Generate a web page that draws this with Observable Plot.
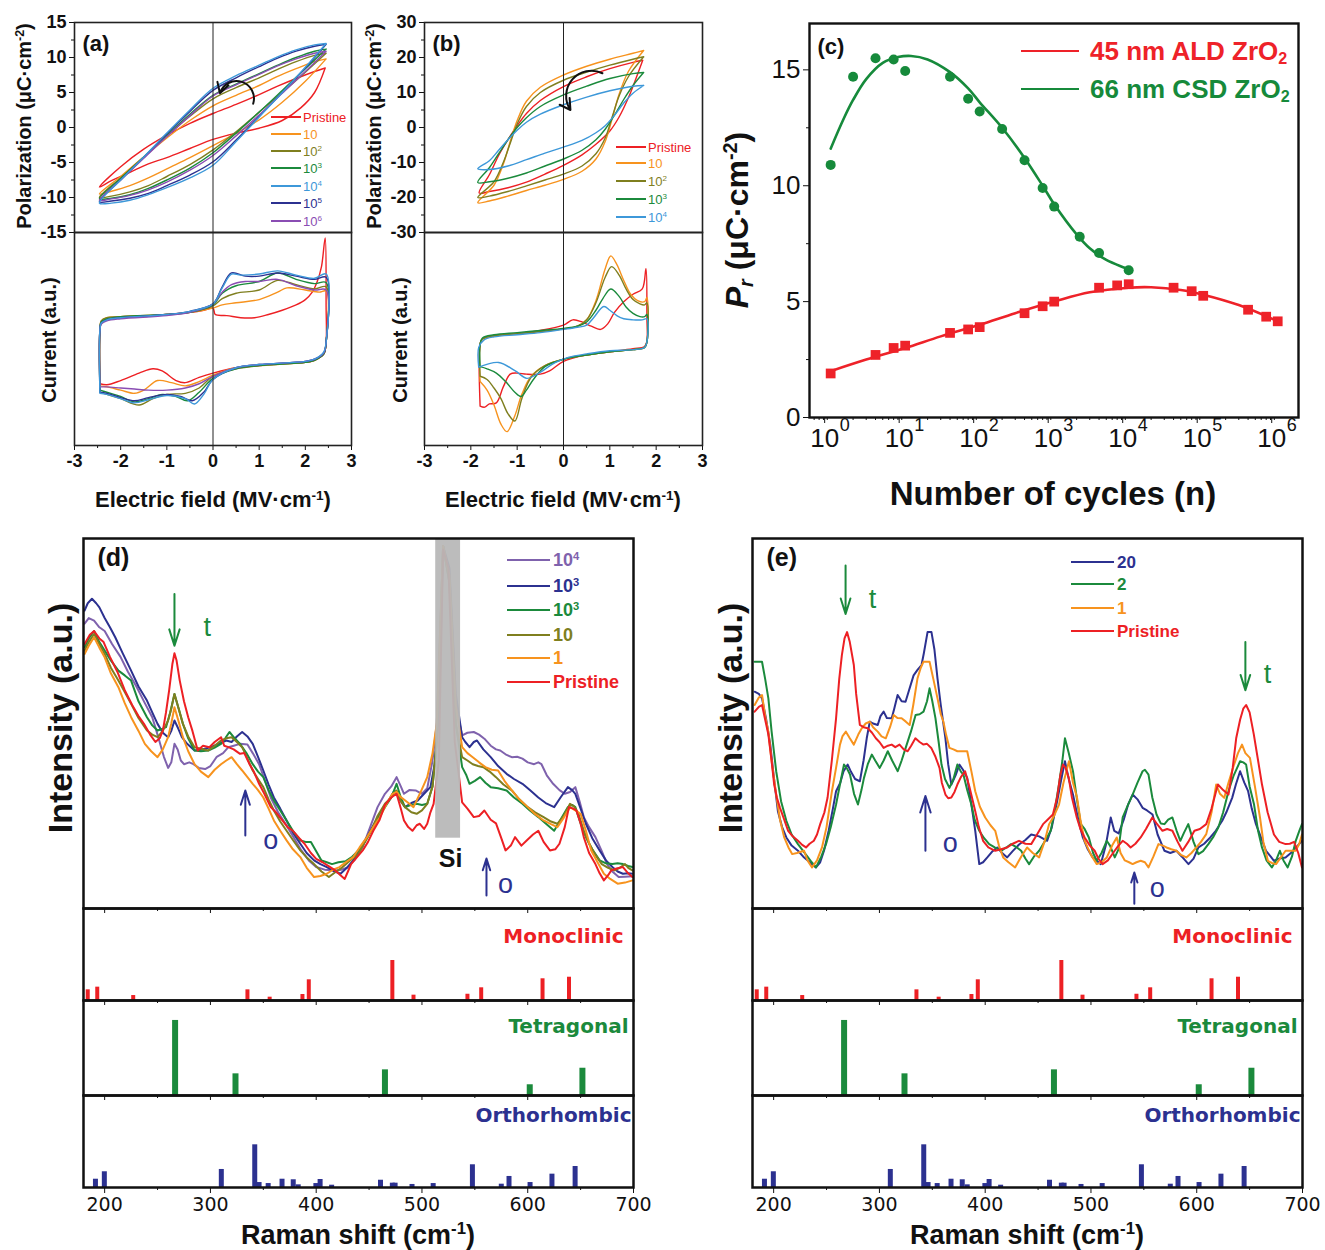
<!DOCTYPE html>
<html><head><meta charset="utf-8">
<script src="https://cdn.jsdelivr.net/npm/d3@7"></script>
<script src="https://cdn.jsdelivr.net/npm/@observablehq/plot@0.6"></script>
<style>
body{margin:0;background:#fff;}
#root{position:relative;width:1325px;height:1250px;overflow:hidden;background:#fff;}
#root sup{font-size:0.62em;vertical-align:0.55em;line-height:0;}
#root sub{font-size:0.62em;vertical-align:-0.25em;line-height:0;}
</style></head>
<body><div id="root"></div>
<script>
// ---------------- DATA ----------------
// Panel (a): P-E loops, [E (MV/cm), P (uC/cm2)]
const aNames = ["Pristine","10","10²","10³","10⁴","10⁵","10⁶"];
const aColors = ["#ed2024","#f7931e","#7f7f1f","#1b8a3c","#3d98d9","#2c3190","#8a4db3"];
const aPolPristine = [[2.43,8.5],[2.2,8.0],[1.8,7.0],[1.4,5.9],[1.0,4.7],[0.5,3.3],[0,2.0],[-0.5,0.6],[-1.0,-1.1],[-1.5,-3.1],[-2.0,-5.6],[-2.46,-8.5],[-2.2,-7.6],[-1.8,-6.4],[-1.4,-5.2],[-1.0,-4.3],[-0.5,-3.0],[0,-1.7],[0.5,-0.8],[1.0,-0.1],[1.5,1.0],[1.9,2.8],[2.2,5.0],[2.43,8.5]];
const aPol10 = [[2.45,9.8],[2.2,9.4],[1.8,8.4],[1.4,7.3],[1.0,6.0],[0.5,4.6],[0,3.1],[-0.5,1.0],[-1.0,-1.5],[-1.5,-4.2],[-2.0,-7.0],[-2.46,-9.5],[-2.2,-9.1],[-1.8,-8.3],[-1.4,-7.2],[-1.0,-5.9],[-0.5,-4.3],[0,-2.6],[0.5,-0.8],[1.0,1.1],[1.5,3.6],[2.0,6.6],[2.45,9.8]];
const aPol1e2 = [[2.45,10.6],[2.2,10.3],[1.8,9.4],[1.4,8.3],[1.0,7.1],[0.5,5.7],[0,4.1],[-0.5,1.6],[-1.0,-1.2],[-1.5,-4.2],[-2.0,-7.2],[-2.46,-10.0],[-2.2,-9.8],[-1.8,-9.2],[-1.4,-8.3],[-1.0,-7.0],[-0.5,-5.3],[0,-3.2],[0.5,-0.6],[1.0,2.2],[1.5,5.0],[2.0,7.9],[2.45,10.6]];
const aPol1e3 = [[2.45,11.2],[2.2,10.9],[1.8,10.0],[1.4,8.9],[1.0,7.7],[0.5,6.2],[0,4.6],[-0.5,1.9],[-1.0,-1.1],[-1.5,-4.2],[-2.0,-7.3],[-2.46,-10.2],[-2.2,-10.1],[-1.8,-9.6],[-1.4,-8.7],[-1.0,-7.5],[-0.5,-5.8],[0,-3.6],[0.5,-0.8],[1.0,2.2],[1.5,5.3],[2.0,8.4],[2.45,11.2]];
const aPol1e4 = [[2.45,12.0],[2.2,11.8],[1.8,11.1],[1.4,10.1],[1.0,8.9],[0.5,7.4],[0,5.6],[-0.5,2.5],[-1.0,-0.8],[-1.5,-4.2],[-2.0,-7.5],[-2.46,-10.8],[-2.2,-10.8],[-1.8,-10.4],[-1.4,-9.6],[-1.0,-8.6],[-0.5,-7.2],[0,-5.4],[0.5,-2.0],[1.0,1.5],[1.5,5.0],[2.0,8.6],[2.45,12.0]];
const aPol1e5 = [[2.45,11.9],[2.2,11.6],[1.8,10.9],[1.4,9.9],[1.0,8.7],[0.5,7.1],[0,5.3],[-0.5,2.3],[-1.0,-0.9],[-1.5,-4.3],[-2.0,-7.5],[-2.46,-10.6],[-2.2,-10.5],[-1.8,-10.1],[-1.4,-9.4],[-1.0,-8.3],[-0.5,-6.8],[0,-4.9],[0.5,-1.8],[1.0,1.6],[1.5,5.0],[2.0,8.5],[2.45,11.9]];
const aPol1e6 = [[2.45,10.9],[2.2,10.6],[1.8,9.8],[1.4,8.8],[1.0,7.6],[0.5,6.1],[0,4.5],[-0.5,1.7],[-1.0,-1.3],[-1.5,-4.4],[-2.0,-7.5],[-2.46,-10.4],[-2.2,-10.2],[-1.8,-9.7],[-1.4,-8.9],[-1.0,-7.8],[-0.5,-6.1],[0,-4.0],[0.5,-1.2],[1.0,1.8],[1.5,4.9],[2.0,8.0],[2.45,10.9]];
// Panel (a): current loops, [E, I (a.u.)]
const aCurPristine = [[-2.45,-4.2],[-2.45,0.5],[-2.42,1.5],[-2.3,1.8],[-2.0,2.0],[-1.5,2.1],[-1.0,2.3],[-0.5,2.5],[-0.2,2.7],[0,2.9],[0.05,2.3],[0.3,2.2],[0.6,2.0],[0.9,2.0],[1.2,2.3],[1.5,2.7],[1.8,3.2],[2.0,3.7],[2.15,4.4],[2.25,5.3],[2.35,6.8],[2.43,9.5],[2.45,3],[2.45,-0.3],[2.4,-1.4],[2.2,-2.0],[2.0,-2.2],[1.5,-2.3],[1.0,-2.5],[0.5,-2.7],[0,-3.2],[-0.3,-3.6],[-0.6,-4.1],[-0.8,-3.9],[-1.1,-3.0],[-1.3,-2.8],[-1.6,-3.2],[-2.0,-3.9],[-2.3,-4.3],[-2.45,-4.2]];
const aCur10 = [[-2.45,-4.4],[-2.45,0.8],[-2.42,1.7],[-2.3,2.0],[-2.0,2.1],[-1.0,2.3],[-0.5,2.5],[0,2.9],[0.2,3.2],[0.5,3.4],[1.0,3.7],[1.4,4.4],[1.6,4.8],[2.0,4.6],[2.3,4.4],[2.45,4.5],[2.45,-0.3],[2.4,-1.4],[2.2,-2.0],[2.0,-2.2],[1.0,-2.5],[0.5,-2.7],[0,-3.4],[-0.3,-4.0],[-0.6,-4.4],[-0.9,-4.1],[-1.2,-3.9],[-1.5,-4.8],[-1.7,-5.1],[-2.0,-4.8],[-2.3,-4.5],[-2.45,-4.4]];
const aCur1e2 = [[-2.45,-5.0],[-2.45,0.8],[-2.42,1.7],[-2.3,2.0],[-2.0,2.1],[-1.0,2.3],[-0.5,2.5],[0,3.1],[0.2,3.8],[0.5,4.3],[1.0,4.6],[1.4,5.5],[1.8,5.1],[2.2,4.7],[2.45,4.9],[2.45,-0.3],[2.4,-1.4],[2.2,-2.0],[2.0,-2.2],[1.0,-2.5],[0.5,-2.8],[0,-3.5],[-0.3,-4.6],[-0.6,-5.1],[-1.0,-5.2],[-1.3,-5.6],[-1.6,-6.2],[-2.0,-5.6],[-2.3,-5.2],[-2.45,-5.0]];
const aCur1e3 = [[-2.45,-4.8],[-2.45,0.8],[-2.42,1.6],[-2.3,1.9],[-2.0,2.1],[-1.0,2.3],[-0.5,2.5],[0,3.2],[0.2,4.3],[0.5,5.0],[1.0,5.4],[1.4,6.2],[1.8,5.6],[2.2,5.2],[2.45,5.3],[2.45,-0.3],[2.4,-1.4],[2.2,-2.0],[2.0,-2.2],[1.0,-2.5],[0.5,-2.8],[0,-3.7],[-0.3,-5.0],[-0.55,-5.8],[-0.8,-5.4],[-1.1,-5.2],[-1.4,-5.6],[-1.7,-5.9],[-2.0,-5.4],[-2.3,-5.0],[-2.45,-4.8]];
const aCur1e4 = [[-2.45,-5.1],[-2.45,0.8],[-2.42,1.5],[-2.3,1.8],[-2.0,2.0],[-1.0,2.3],[-0.5,2.6],[0,3.3],[0.2,4.8],[0.4,6.1],[0.6,6.0],[1.0,6.1],[1.4,6.4],[1.8,6.0],[2.2,5.7],[2.45,6.1],[2.45,-0.3],[2.4,-1.2],[2.2,-1.9],[2.0,-2.1],[1.0,-2.4],[0.5,-2.7],[0,-3.8],[-0.2,-5.2],[-0.4,-6.1],[-0.6,-5.6],[-1.0,-5.3],[-1.4,-5.7],[-1.7,-6.0],[-2.0,-5.6],[-2.3,-5.2],[-2.45,-5.1]];
const aCur1e5 = [[-2.45,-5.0],[-2.45,0.8],[-2.42,1.5],[-2.3,1.8],[-2.0,2.0],[-1.0,2.3],[-0.5,2.6],[0,3.3],[0.2,4.9],[0.4,6.2],[0.7,5.9],[1.0,5.9],[1.4,6.2],[1.8,5.9],[2.2,5.6],[2.45,5.8],[2.45,-0.3],[2.4,-1.3],[2.2,-1.9],[2.0,-2.1],[1.0,-2.4],[0.5,-2.7],[0,-3.8],[-0.2,-5.0],[-0.45,-5.8],[-0.7,-5.4],[-1.0,-5.2],[-1.4,-5.5],[-1.7,-5.8],[-2.0,-5.5],[-2.3,-5.1],[-2.45,-5.0]];
const aCur1e6 = [[-2.45,-4.5],[-2.45,0.8],[-2.42,1.4],[-2.3,1.7],[-2.0,1.9],[-1.0,2.2],[-0.5,2.5],[0,3.3],[0.2,4.4],[0.4,5.1],[0.7,5.4],[1.0,5.4],[1.4,5.6],[1.8,5.0],[2.2,4.6],[2.45,4.6],[2.45,-0.3],[2.4,-1.3],[2.2,-1.9],[2.0,-2.1],[1.0,-2.4],[0.5,-2.7],[0,-3.5],[-0.3,-4.2],[-0.6,-4.6],[-1.0,-4.8],[-1.4,-4.8],[-1.7,-4.7],[-2.0,-4.6],[-2.3,-4.5],[-2.45,-4.5]];

// Panel (b)
const bNames = ["Pristine","10","10²","10³","10⁴"];
const bColors = ["#ed2024","#f7931e","#7f7f1f","#1b8a3c","#3d98d9"];
const bPolPristine = [[1.71,19.2],[1.5,18.6],[1.0,16.8],[0.5,14.5],[0,11.7],[-0.5,7.7],[-0.8,4.0],[-1.0,0.5],[-1.2,-3.5],[-1.4,-8],[-1.6,-13.5],[-1.82,-18.7],[-1.6,-18.3],[-1.2,-17.2],[-0.8,-15.6],[-0.4,-13.3],[0,-10.8],[0.4,-7.8],[0.7,-4.8],[1.0,-1.0],[1.2,3.0],[1.4,8.5],[1.55,13.5],[1.71,19.2]];
const bPol10 = [[1.73,22.0],[1.5,21.2],[1.0,19.5],[0.5,17.5],[0,15.0],[-0.5,11.5],[-0.8,7.5],[-1.0,2.0],[-1.15,-4],[-1.3,-10.5],[-1.5,-16.5],[-1.85,-21.5],[-1.6,-21.0],[-1.2,-19.6],[-0.8,-18.0],[-0.4,-16.5],[0,-14.8],[0.4,-12.5],[0.7,-9.0],[0.9,-4.0],[1.05,2.5],[1.2,9.5],[1.4,16.0],[1.73,22.0]];
const bPol1e2 = [[1.73,20.2],[1.5,19.5],[1.0,17.8],[0.5,15.8],[0,13.5],[-0.5,10.0],[-0.8,6.0],[-1.0,1.0],[-1.15,-4.5],[-1.3,-10.0],[-1.5,-15.5],[-1.85,-20.0],[-1.6,-19.6],[-1.2,-18.3],[-0.8,-16.7],[-0.4,-15.0],[0,-13.3],[0.4,-11.0],[0.7,-7.5],[0.9,-3.0],[1.05,3.0],[1.2,9.0],[1.4,14.5],[1.73,20.2]];
const bPol1e3 = [[1.73,15.7],[1.5,15.4],[1.0,14.0],[0.5,11.8],[0,9.3],[-0.5,6.0],[-0.8,2.8],[-1.0,0],[-1.2,-3.5],[-1.4,-7.5],[-1.6,-11.5],[-1.85,-15.7],[-1.6,-15.5],[-1.2,-14.5],[-0.8,-13.0],[-0.4,-11.0],[0,-9.0],[0.4,-6.5],[0.7,-3.5],[0.9,-0.5],[1.1,3.5],[1.3,8.0],[1.5,12.0],[1.73,15.7]];
const bPol1e4 = [[1.73,12.0],[1.5,11.8],[1.0,10.5],[0.5,8.7],[0,6.5],[-0.5,3.8],[-0.8,1.5],[-1.0,-0.8],[-1.2,-3.5],[-1.4,-6.5],[-1.6,-9.5],[-1.85,-11.8],[-1.6,-12.0],[-1.2,-11.0],[-0.8,-9.2],[-0.4,-7.3],[0,-5.6],[0.4,-3.7],[0.7,-1.5],[0.9,0.5],[1.1,3.5],[1.3,7.0],[1.5,9.8],[1.73,12.0]];
const bCurPristine = [[-1.8,-6.3],[-1.8,-0.5],[-1.75,0.0],[-1.5,0.3],[-1.0,0.5],[-0.5,0.8],[0,1.3],[0.2,1.8],[0.4,1.6],[0.6,1.2],[0.8,0.9],[0.95,1.4],[1.1,2.5],[1.3,3.5],[1.5,4.2],[1.7,4.7],[1.78,6.6],[1.8,2.0],[1.8,-0.2],[1.75,-0.7],[1.5,-0.9],[1.0,-1.2],[0.5,-1.5],[0,-2.1],[-0.3,-3.0],[-0.5,-3.3],[-0.8,-3.3],[-1.0,-3.2],[-1.15,-3.3],[-1.3,-4.5],[-1.45,-6.0],[-1.6,-6.1],[-1.7,-6.4],[-1.8,-6.3]];
const bCur10 = [[-1.8,-4.0],[-1.8,-0.5],[-1.75,0.0],[-1.5,0.3],[-1.0,0.5],[-0.5,0.7],[0,0.95],[0.3,1.2],[0.5,1.8],[0.7,3.6],[0.9,6.6],[1.02,7.8],[1.15,7.0],[1.3,5.5],[1.45,4.2],[1.6,3.6],[1.75,3.5],[1.8,3.9],[1.8,-0.3],[1.75,-0.8],[1.5,-1.0],[1.0,-1.2],[0.5,-1.5],[0,-1.9],[-0.4,-2.5],[-0.7,-3.5],[-0.9,-5.2],[-1.05,-7.2],[-1.22,-8.7],[-1.35,-8.0],[-1.5,-6.2],[-1.65,-4.8],[-1.8,-4.0]];
const bCur1e2 = [[-1.8,-3.5],[-1.8,-0.5],[-1.75,0.0],[-1.5,0.3],[-1.0,0.5],[-0.5,0.7],[0,0.95],[0.3,1.2],[0.5,1.8],[0.7,3.4],[0.9,5.8],[1.04,6.8],[1.2,6.0],[1.35,4.7],[1.5,3.7],[1.65,3.3],[1.75,3.2],[1.8,3.4],[1.8,-0.3],[1.75,-0.8],[1.5,-1.0],[1.0,-1.2],[0.5,-1.5],[0,-1.9],[-0.4,-2.5],[-0.7,-3.6],[-0.9,-5.6],[-1.05,-7.7],[-1.2,-7.0],[-1.35,-5.6],[-1.5,-4.6],[-1.65,-3.8],[-1.8,-3.5]];
const bCur1e3 = [[-1.8,-2.6],[-1.8,-0.5],[-1.75,0.1],[-1.5,0.4],[-1.0,0.6],[-0.5,0.8],[0,1.0],[0.3,1.2],[0.5,1.6],[0.7,2.7],[0.85,3.8],[1.02,4.7],[1.2,4.0],[1.35,3.0],[1.5,2.4],[1.65,2.1],[1.75,2.1],[1.8,2.3],[1.8,-0.3],[1.75,-0.8],[1.5,-1.0],[1.0,-1.2],[0.5,-1.5],[0,-1.9],[-0.4,-2.6],[-0.65,-3.8],[-0.8,-4.8],[-0.92,-5.4],[-1.05,-5.0],[-1.25,-4.0],[-1.45,-3.2],[-1.65,-2.8],[-1.8,-2.6]];
const bCur1e4 = [[-1.83,-2.65],[-1.83,-0.8],[-1.72,-0.1],[-1.5,0.2],[-1.0,0.4],[-0.5,0.6],[0,0.9],[0.3,1.1],[0.5,1.3],[0.65,2.0],[0.87,3.05],[1.0,2.7],[1.15,2.2],[1.3,1.9],[1.5,1.8],[1.7,1.8],[1.8,1.9],[1.8,-0.3],[1.75,-0.8],[1.5,-1.0],[1.0,-1.1],[0.5,-1.4],[0.12,-1.7],[-0.17,-2.2],[-0.57,-3.3],[-0.79,-3.7],[-1.04,-3.0],[-1.4,-2.2],[-1.83,-2.65]];

// Panel (c): remanent polarization vs cycles
const cCyclesALD = [1,4,7,10,40,70,100,400,700,1000,4000,7000,10000,40000,70000,100000,400000,700000,1000000];
const cPrALD     = [1.9,2.7,3.0,3.1,3.65,3.8,3.9,4.5,4.8,5.0,5.6,5.7,5.75,5.6,5.45,5.25,4.65,4.35,4.15];
const cCyclesCSD = [1,2,4,7,10,40,70,100,200,400,700,1000,2200,4000,10000];
const cPrCSD     = [10.9,14.7,15.5,15.45,14.95,14.7,13.75,13.2,12.45,11.1,9.9,9.1,7.8,7.1,6.35];
const cFitALD = [[1,2.0],[3,2.5],[10,3.0],[30,3.5],[100,4.0],[300,4.5],[1000,5.0],[3000,5.4],[10000,5.6],[20000,5.62],[50000,5.5],[100000,5.3],[300000,4.85],[1000000,4.15]];
const cFitCSD = [[1,11.6],[1.5,12.9],[2,13.7],[3,14.6],[5,15.3],[8,15.55],[12,15.6],[20,15.45],[40,14.9],[70,14.2],[100,13.6],[200,12.5],[400,11.2],[700,10.0],[1000,9.2],[2000,7.9],[3000,7.3],[5000,6.8],[10000,6.4]];
const cMajorTicks = [1,10,100,1000,10000,100000,1000000];
const cYTicks = [0,5,10,15];

// Panel (d): Raman spectra, [shift (cm-1), intensity (a.u.)]
const dNames = ["10⁴","10³ ","10³","10","1","Pristine"];
const dColors = ["#7f62ad","#2c3190","#1b8a3c","#7f7f1f","#f7931e","#ed2024"];
const dPristine = [[181,71.5],[186,74],[190,75],[195,73],[199,72],[205,68],[212,64],[219,59],[226,55],[232,52],[237,50],[243,47],[248,45],[252,46],[255,48],[258,53],[261,59],[264,66],[266,69],[268,67],[271,61.6],[275,56],[279,51.7],[283,48],[288,42.7],[293,44],[299,43.6],[304,45],[310,46.3],[313,44],[317,43.6],[322,43],[328,41.8],[332,42],[337,39],[341,37],[346,33.7],[351,31],[357,27.4],[362,26],[368,23.8],[373,22],[378,21],[384,19],[389,17.5],[395,15],[400,13.4],[406,12.5],[411,11.6],[418,10.3],[423,9],[427,8],[430,10],[433,12],[439,14],[444,15.7],[449,18],[454,21],[460,24],[465,28],[471,30],[476,31],[480,27],[483,23.8],[487,22],[491,21],[495,22.5],[498,22.9],[502,21.5],[505,22.9],[508,26],[511,28.3],[516,40],[520,97],[525,92],[531,45],[538,28.7],[543,27],[549,24.7],[554,25],[559,26.5],[565,24],[570,23],[575,19],[579,15.7],[584,17],[588,19.3],[594,17],[599,18.4],[605,20],[610,21],[615,18],[621,15.7],[626,16],[630,17.5],[635,22],[639,27.4],[643,27],[646,26.5],[650,23],[653,19.3],[658,15],[664,12],[668,9.5],[672,7.6],[676,9],[679,10.3],[684,10.8],[690,11.2],[695,9.5],[699,8.5]];
const d1e4 = [[181,77],[185,78.5],[190,77.8],[195,76],[200,75],[207,71.5],[215,68],[222,64],[230,60],[238,55.5],[245,51.7],[250,47],[253,44],[256,41],[260,38],[263,39.5],[266,44.5],[269,43],[272,40],[275,39],[280,39.5],[284,39],[289,38],[295,37.7],[300,38.5],[306,41],[312,42],[317,43.6],[322,44],[328,44.5],[335,44.3],[340,42],[346,39],[351,35],[357,30],[364,26],[371,22.9],[378,19.5],[386,15.7],[393,13],[400,11.2],[408,10.5],[418,10.3],[424,10.5],[429,11],[436,13],[444,16.6],[451,22],[458,27.4],[465,31],[471,33],[476,35.5],[480,33],[483,31],[488,32],[494,31.9],[500,31],[505,32.5],[510,40],[514,50],[520,98],[526,90],[532,55],[538,46.8],[543,47.5],[549,47.7],[554,47],[559,45.9],[565,44],[570,43],[574,42.7],[580,41.5],[585,40.9],[590,41],[595,40.5],[600,39.5],[606,39],[610,39.5],[613,39],[618,36],[624,33.7],[630,32],[635,31],[640,31.5],[645,32.8],[649,29],[653,24.7],[658,22],[664,19.3],[670,15.5],[675,12],[680,10],[686,8.5],[692,8.6],[699,8.7]];
const d1e3navy = [[181,80.5],[184,82.5],[188,83.7],[192,82.5],[195,81.4],[200,78.5],[205,76],[210,73.3],[217,69],[225,64.3],[232,60],[240,56.2],[245,53],[250,49.9],[255,47.5],[260,46.3],[263,48],[266,50.8],[269,49],[273,46.3],[278,44.5],[285,42.7],[292,43],[300,43.6],[308,44.5],[315,45.4],[320,45],[325,46.5],[330,47.7],[335,46.5],[340,44.5],[345,41],[350,37.3],[355,33.5],[360,30],[366,27],[372,23.8],[378,20.5],[385,17.5],[391,15],[398,13],[404,12],[410,11.2],[416,10.2],[423,9.4],[429,11],[435,13],[441,16],[448,19.3],[455,23],[462,26.5],[468,29],[474,31.9],[479,29.5],[484,27.4],[490,28.5],[496,29.2],[502,31],[508,32.8],[512,39],[516,52],[520,98],[526,92],[532,58],[538,46.3],[541,45],[545,43.6],[549,45],[552,45.4],[558,43],[565,40.9],[572,38.5],[580,36.4],[587,35],[595,33.7],[602,32],[610,30],[617,28.5],[625,27.4],[631,30],[638,32.8],[642,32],[645,31],[650,27],[655,22.9],[661,19],[668,15.7],[674,13],[680,11.2],[685,10],[690,9.4],[695,9.5],[699,9.4]];
const d1e3green = [[181,70.6],[185,73],[190,75],[195,72],[200,69.7],[206,67],[213,64.3],[219,63],[225,61.6],[232,56],[240,51.7],[245,49.5],[250,48.1],[254,48.5],[258,49],[262,53],[266,58],[270,54],[274,49.9],[279,46],[285,42.7],[291,42.5],[298,42.7],[304,43.5],[310,44.5],[314,46],[318,47.7],[323,46],[328,44.5],[334,42],[340,39],[345,37],[350,35.5],[355,32],[360,29.2],[366,26.5],[372,23.8],[378,21],[385,18.4],[390,18],[395,18],[400,15.5],[405,13],[410,12.5],[415,12],[421,12.5],[428,12.8],[434,14],[440,15.7],[446,18],[452,21],[458,24],[465,27.4],[471,30],[476,33.7],[480,30],[484,27.4],[490,28],[495,28.3],[500,28],[505,28.3],[510,33],[514,45],[520,98],[526,88],[532,50],[538,38.2],[542,36],[545,33.7],[550,34.5],[555,35.5],[560,34],[565,32.8],[572,32.5],[580,31.9],[587,30],[595,28.3],[602,26.5],[610,24.7],[617,23],[625,21],[631,24],[638,27.4],[642,28],[645,27.4],[650,23],[655,19.3],[661,16],[668,13],[674,12.2],[680,12],[685,12.2],[690,12],[695,11.5],[699,11.2]];
const d10 = [[181,69.7],[185,72],[190,74.2],[195,71.5],[200,68.8],[206,65],[213,61.6],[219,58.5],[225,55.3],[232,51.5],[240,48.1],[245,47],[250,46.3],[255,48],[260,50.8],[263,54],[266,58],[270,54],[274,49.9],[279,46.5],[285,43.6],[291,43.2],[298,42.7],[304,44],[310,45.4],[315,46],[320,46.3],[325,45],[330,43.6],[335,40.5],[340,37.3],[345,35],[350,32.8],[355,29.5],[360,26.5],[366,23.5],[372,21],[378,18.5],[385,15.7],[391,13.8],[398,12],[405,10],[412,8.5],[418,9.8],[425,11.2],[432,13],[440,14.8],[446,18],[452,21],[458,25],[465,28.3],[471,30],[476,31.9],[480,29],[484,27.4],[490,26],[495,25.6],[500,26.5],[505,28.3],[510,33],[514,45],[520,98],[526,88],[532,50],[538,40.9],[543,40],[548,39],[553,38.5],[558,38.2],[564,37],[570,35.5],[577,33.5],[585,31.9],[592,29.5],[600,27.4],[607,26],[615,24.7],[622,23.5],[628,22.9],[634,25],[640,28.3],[644,27.5],[648,25.6],[653,21],[658,17.5],[664,14.5],[670,12],[676,11],[682,10.3],[687,11],[692,12],[695,11],[699,10.3]];
const d1 = [[181,68.8],[185,71],[190,73.3],[195,70.5],[200,67.9],[206,63.5],[213,59.8],[219,55.5],[225,51.7],[232,48],[238,44.5],[244,42.5],[250,40.9],[255,43],[260,46.3],[263,50],[266,54.4],[270,50.5],[274,46.3],[279,42.5],[285,39],[291,37],[298,35.5],[304,37.5],[310,39],[315,40],[320,40.9],[325,39],[330,37.3],[335,35.5],[340,33.7],[345,32],[350,30],[355,27],[360,23.8],[366,21],[372,18.4],[378,16],[385,13.9],[391,11],[398,8.5],[404,8.8],[410,9.4],[416,10.5],[422,11.2],[428,12.5],[435,13.9],[441,16.5],[448,19.3],[454,22],[460,24.6],[466,28],[472,31],[476,31.5],[480,30.1],[486,28.8],[492,27.4],[498,31],[505,35.5],[510,42],[514,50],[520,98],[526,90],[532,55],[538,43.6],[543,42],[548,40.9],[554,39.5],[560,38.2],[566,37.5],[572,37.3],[578,34.5],[585,31.9],[592,29.5],[600,27.4],[607,25.5],[615,23.8],[622,22.8],[628,22],[634,24.5],[640,27.4],[645,26.5],[650,25.6],[655,21],[660,15.7],[666,12.5],[672,9.4],[678,8],[685,6.7],[692,7],[699,7.6]];

// Panel (e)
const eNames = ["20","2","1","Pristine"];
const eColors = ["#2c3190","#1b8a3c","#f7931e","#ed2024"];
const ePristine = [[182,53.2],[186,54.5],[189,55],[192,51],[195,47],[198,40],[200.5,33.5],[203,30],[206,27.2],[210,24],[213.7,21],[218,19.5],[223,18.3],[227,17.2],[230.6,16.5],[234,17.5],[238,18.3],[241,20],[244,22.8],[248,26],[251,30],[255,40],[259,51.4],[262,62],[264.5,68.5],[267,73],[269.4,74.7],[272,72],[275.8,65.8],[278,58],[281.5,49.6],[285,49],[289,48.7],[293,47.5],[296.6,46],[300,45],[304,43.4],[308,44],[311.6,44.3],[315,43.6],[319,44.3],[323,43],[326.7,42.5],[330,44],[334,46],[338,45],[341.7,44.3],[345,44.5],[349,43.4],[353,41],[356.8,38],[359,34],[362.4,30.8],[365,29.8],[368,30],[371,31.5],[373.7,33.5],[377,35.5],[381,37.1],[385,33],[390.6,26.3],[394,22],[398,18.3],[403,16.5],[409.5,15.6],[415,16],[420.8,16.5],[426,17.5],[432,18.3],[438,17.5],[443.5,17.4],[449,20],[454.7,22.8],[459,24],[464,25.4],[468,30],[471,36],[473.5,38.9],[476,38],[479,35.3],[482,30],[486.6,24.6],[490,21.5],[494,19.2],[499,17],[503.5,15.6],[507,13.5],[511,12],[516,13],[522.4,15.6],[526,17],[530,18.3],[534,17.5],[537.5,16.5],[542,17.5],[547,19.2],[552,21.5],[558,24.6],[562,23],[567.6,21],[572,21.5],[577,21],[582,18],[586.5,15.6],[592,18],[597.8,21],[603,21.5],[609,22.8],[614,27],[620,33.5],[625,32],[630,30.8],[634,38],[637.3,46],[641,51],[644,54],[646.7,55],[650,53],[654,47],[658,40],[661.7,33.5],[667,26],[673,20],[678,18],[684,17.4],[688,17.5],[692,18],[696,15],[699.5,11.1]];
const e20 = [[182,58.6],[186,58],[189,56.8],[193,51],[196.8,44.3],[200,36],[204,26.3],[208,22],[212,19.2],[217,17],[223,15.6],[228,14],[232.5,12.9],[236,12],[240,11.1],[244,12.5],[247.6,15.6],[252,21],[256,27],[259,31.7],[263,34],[266,37],[270,38.9],[273,37],[277,35],[281.5,34.4],[285,40],[288,46],[290.9,50.5],[294,50],[298.4,49.6],[301,52],[304,53.2],[307,51.5],[311.6,51.4],[314,54],[317.2,57.7],[321,56],[324.7,55.9],[328,59],[332.3,63],[336,64.5],[339.8,65.8],[342,69],[345.5,74.7],[349.2,74.7],[352,70],[354.9,62.2],[358,55],[362.4,46],[365,39],[368,33.5],[372,36],[375.6,38.9],[379,37.5],[383,35.3],[387,28],[390.6,21],[394.4,12],[398,12.5],[402,13.8],[407,15.5],[411.4,16.5],[416,15],[420.8,13.8],[426,15.5],[432,17.3],[438,18.5],[443.5,20],[451,19.5],[458.6,18.3],[463,22],[468,29],[472,35],[475.4,39.8],[479,35],[483,30.8],[488,24],[492.3,19.2],[497,16],[501.7,13.8],[505,13],[509.3,12],[514,17],[518.7,24.6],[522,21],[526.2,20.3],[531,24],[535,28],[539.4,30.8],[544,29.5],[548.8,27.2],[553,26.5],[558.2,25.4],[563,20],[569.5,15.6],[575,15],[580.8,15.6],[586,14],[592.2,12],[597,13.5],[601.6,16.5],[607,17.5],[612.8,19.2],[618,21],[624.1,23.7],[628,26],[633.5,29.9],[637,33.5],[641,37.1],[645,34],[648.6,31.7],[652,27],[656,22.8],[661,19],[665.5,15.6],[670,14],[673,12.9],[678,13.5],[684,13.8],[689,15],[694,16.5],[699.5,18.3]];
const e2 = [[182,66.7],[186,66.7],[189,66.7],[192,62],[195,56.8],[198,48],[202.4,37.1],[207,29],[212,23.7],[217,20],[223,17.4],[228,15.5],[232.5,13.8],[236,12.5],[240,11.1],[245,14],[249.5,17.4],[254,22],[259,28.1],[263,34],[266.5,38.9],[269,38],[272.2,36.2],[276,31],[279.7,28.1],[283,32],[285.4,35.3],[289,39],[292.8,41.6],[296,40],[300.3,38],[304,40],[307.9,42.5],[312,40],[317.3,37.1],[321,40],[324.8,43.4],[330,48],[334.2,52.3],[338,52.5],[341.7,53.2],[345,56],[347.4,59.5],[350,56],[353,51.4],[356,45],[358.7,38.9],[362,35],[366.2,32.6],[370,35],[373.7,38.9],[377,37],[379.4,36.2],[383,32],[386.9,28.1],[390,24],[394.4,21],[399,19],[403.8,17.4],[409,16.5],[415,15.6],[420,16.5],[424.5,17.4],[430,16.5],[434,15.6],[438,13.5],[441.5,12],[446,14],[451,15.6],[456,18],[462,21],[466,27],[469.7,33.5],[473,40],[475.4,46],[479,42],[483,37.1],[487,29],[490.4,22.8],[494,21.5],[498,19.2],[502,15],[505.5,12.9],[510,15],[514.9,18.3],[518,17],[522.5,13.8],[526,16],[530,24.6],[535,28],[539.4,30.8],[544,34],[548.8,37.1],[551,37.5],[554.4,36.2],[558,30],[562,25.4],[566,23],[569.5,22.8],[573,24],[577,24.6],[581,21],[584.5,18.3],[588,20.5],[592,22.8],[597,18],[601.6,14.7],[606,15.5],[611,17.4],[616,19.5],[620.4,21.9],[625,26],[630,31.7],[635,36],[641,39.8],[644,39.5],[646.7,38.9],[650,33],[654.2,28.1],[658,21],[661.7,16.5],[666,13],[671,11.1],[675,13],[678.6,15.6],[682,13],[686,11.1],[690,14],[693.6,18.3],[697,21],[699.5,22.8]];
const e1 = [[182,55],[186,57],[189,57.7],[192,52],[195,47.8],[198,40],[202.4,30.8],[206,24],[210,19.2],[214,16.5],[217.5,14.7],[222,15],[228.8,15.6],[232,13],[236.3,11.1],[241,13],[245.7,16.5],[250,22],[255.1,31.7],[259,38],[262.7,44.3],[265,46.5],[268.3,47.8],[272,46],[275.8,44.3],[280,47],[283.3,48.7],[287,50],[290.9,50.5],[294,49],[298.4,47.8],[302,46.5],[306,46],[310,49],[313.5,52.3],[317,51.5],[321,51.4],[325,50.5],[328.6,49.6],[332,55],[336,62.2],[339,65],[341.7,66.7],[345,66.7],[347.4,66.7],[351,62],[354.9,56.8],[358,52.5],[360.5,50.5],[363,47],[366.2,43.4],[370,43],[373.7,42.5],[378,42.5],[383,42.5],[387,37],[390.6,31.7],[395,27.5],[400,24.6],[405,22.5],[409.5,21],[413,17],[417,13.8],[422,12.5],[428.3,11.1],[434,14],[439.6,16.5],[445,15],[451,13.8],[456,18],[460.4,22.8],[465,25],[469.8,28.1],[474,34],[479.2,39.8],[483,34],[486.8,30],[490,24],[494,18.3],[500,14.5],[505.5,12],[510,12.5],[515,13.8],[520,17],[524.4,19.2],[528,15],[532,13],[536,12.5],[539.4,12],[543,12.5],[547,12.9],[551,12.5],[554.4,11.1],[559,14],[563.8,17.4],[568,17],[571.4,16.5],[576,16],[580.8,15.6],[585,14.5],[590.2,13.8],[595,15],[599.6,16.5],[604,18],[609,20.1],[614,26],[618.4,33.5],[622,31],[626,29.9],[630,34],[635.3,38.9],[639,42],[642.8,44.3],[646,42],[650.3,40.7],[655,33],[659.8,24.6],[663,18],[667.3,12.9],[671,12.3],[675,12],[680,14],[684,15.6],[688,15.6],[693.5,15.6],[697,17.5],[699.5,20]];

// Reference Raman modes (relative intensity, % of sub-panel height)
const monoShift = [184,193,227,335,356,387,393,472,492,543,556,614,639];
const monoInt   = [11.6,14.5,5.4,11.6,3.6,6.5,22.5,43.5,5.8,6.8,13.8,23.6,25.3];
const tetShift  = [266.6,323.7,465,601.9,651.7];
const tetInt    = [79,22.8,27,11.3,28.7];
const orthoShift = [191.3,199.7,310.3,341.9,346,354.6,367.7,378.3,383,399.7,403.7,414.6,460.8,472,474.6,490.6,510.6,547.7,575,582.3,602.2,622.9,644.8];
const orthoInt   = [9,17.1,19.6,46.4,5.4,4.3,9,8.4,2.9,4.3,8.7,2.5,7.9,4.7,4.7,3.3,4.3,24.7,3.6,12,5.4,14.5,22.8];
const ramanTicks = [200,300,400,500,600,700];
const ramanMinorTicks = [250,350,450,550,650];

// ---------------- HELPERS ----------------
const root = document.getElementById("root");
const ARIAL = '"Liberation Sans", Arial, Helvetica, sans-serif';
const TAHOMA = '"DejaVu Sans", Verdana, sans-serif';
function place(svg, left, top) {
  const d = document.createElement("div");
  d.style.cssText = `position:absolute;left:${left}px;top:${top}px;`;
  svg.style.overflow = "visible";
  svg.style.background = "transparent";
  svg.style.maxWidth = "none";
  d.appendChild(svg);
  root.appendChild(d);
}
function label(html, x, y, o = {}) {
  const {size = 16, color = "#111", weight = "bold", rotate = false, align = "center", family = ARIAL} = o;
  const d = document.createElement("div");
  d.innerHTML = html;
  const tx = align === "center" ? "-50%" : align === "right" ? "-100%" : "0";
  d.style.cssText = `position:absolute;left:${x}px;top:${y}px;font-family:${family};font-size:${size}px;font-weight:${weight};color:${color};white-space:nowrap;line-height:1;transform:translate(${tx},-50%)${rotate ? " rotate(-90deg)" : ""};`;
  root.appendChild(d);
}
function legendItem(x1, x2, y, color, html, tx, size, weight, lw) {
  const l = document.createElement("div");
  l.style.cssText = `position:absolute;left:${x1}px;top:${y - lw / 2}px;width:${x2 - x1}px;height:${lw}px;background:${color};`;
  root.appendChild(l);
  label(html, tx, y, {size, color, weight, align: "left"});
}
const toRows = (pairs) => pairs.flatMap(([s, arr]) => arr.map(([x, y]) => ({s, x, y})));
const noLabel = () => "";
const plain = (d) => String(d);

// ---------------- PANELS (a) and (b) ----------------
const aPolRows = toRows([[aNames[0], aPolPristine],[aNames[1], aPol10],[aNames[2], aPol1e2],[aNames[3], aPol1e3],[aNames[5], aPol1e5],[aNames[6], aPol1e6],[aNames[4], aPol1e4]]);
const aCurRows = toRows([[aNames[0], aCurPristine],[aNames[1], aCur10],[aNames[2], aCur1e2],[aNames[3], aCur1e3],[aNames[5], aCur1e5],[aNames[6], aCur1e6],[aNames[4], aCur1e4]]);
const bPolRows = toRows([[bNames[0], bPolPristine],[bNames[1], bPol10],[bNames[2], bPol1e2],[bNames[3], bPol1e3],[bNames[4], bPol1e4]]);
const bCurRows = toRows([[bNames[0], bCurPristine],[bNames[1], bCur10],[bNames[2], bCur1e2],[bNames[3], bCur1e3],[bNames[4], bCur1e4]]);

const feTicks = [-3,-2,-1,0,1,2,3];
const feMinor = [-2.5,-1.5,-0.5,0.5,1.5,2.5];

function polPanel({rows, names, colors, yMax, yStep, arrow, bend, letter, mL, mR}) {
  const major = d3.range(-yMax, yMax + 0.001, yStep);
  const minor = d3.range(-yMax + yStep / 2, yMax, yStep);
  return Plot.plot({
    width: 360, height: 240, marginLeft: mL, marginRight: mR, marginTop: 22, marginBottom: 8,
    x: {domain: [-3, 3], axis: null},
    y: {domain: [-yMax, yMax], axis: null},
    color: {domain: names, range: colors},
    style: {fontFamily: ARIAL, fontWeight: "bold", color: "#111"},
    marks: [
      Plot.axisY(major, {tickSize: 5, tickPadding: 3, fontSize: 18, tickFormat: plain, label: null}),
      Plot.axisY(minor, {tickSize: 3, tickFormat: noLabel, label: null}),
      Plot.line(rows, {x: "x", y: "y", z: "s", stroke: "s", strokeWidth: 1.4, curve: "catmull-rom"}),
      Plot.ruleX([0], {stroke: "#222", strokeWidth: 1}),
      Plot.arrow(arrow, {x1: "x1", y1: "y1", x2: "x2", y2: "y2", bend, stroke: "#111", strokeWidth: 2, headLength: 9}),
      Plot.text([letter], {text: (d) => d, frameAnchor: "top-left", dx: 8, dy: 21, textAnchor: "start", lineAnchor: "middle", fontSize: 22, fontWeight: "bold"}),
      Plot.frame({stroke: "#222", strokeWidth: 1.6})
    ]
  });
}
function curPanel({rows, names, colors, mL, mR}) {
  return Plot.plot({
    width: 360, height: 290, marginLeft: mL, marginRight: mR, marginTop: 0, marginBottom: 77,
    x: {domain: [-3, 3], axis: null},
    y: {domain: [-10, 10], axis: null},
    color: {domain: names, range: colors},
    style: {fontFamily: ARIAL, fontWeight: "bold", color: "#111"},
    marks: [
      Plot.axisX(feTicks, {tickSize: 5, tickPadding: 4, fontSize: 18, tickFormat: plain, label: null}),
      Plot.axisX(feMinor, {tickSize: 3, tickFormat: noLabel, label: null}),
      Plot.line(rows, {x: "x", y: "y", z: "s", stroke: "s", strokeWidth: 1.4, curve: "catmull-rom"}),
      Plot.ruleX([0], {stroke: "#222", strokeWidth: 1}),
      Plot.frame({stroke: "#222", strokeWidth: 1.6})
    ]
  });
}
const arrowA = [{x1: 0.87, y1: 3.4, x2: 0.15, y2: 4.9}];
const arrowB = [{x1: 0.84, y1: 15.5, x2: 0.15, y2: 5.0}];

place(polPanel({rows: aPolRows, names: aNames, colors: aColors, yMax: 15, yStep: 5, arrow: arrowA, bend: -90, letter: "(a)", mL: 74, mR: 9}), 0, 0);
place(curPanel({rows: aCurRows, names: aNames, colors: aColors, mL: 74, mR: 9}), 0, 232);
place(polPanel({rows: bPolRows, names: bNames, colors: bColors, yMax: 30, yStep: 10, arrow: arrowB, bend: -75, letter: "(b)", mL: 69, mR: 13}), 355, 0);
place(curPanel({rows: bCurRows, names: bNames, colors: bColors, mL: 69, mR: 13}), 355, 232);

label("Polarization (μC·cm<sup>-2</sup>)", 24, 126, {size: 20, rotate: true});
label("Current (a.u.)", 49, 340, {size: 20, rotate: true});
label("Electric field (MV·cm<sup>-1</sup>)", 213, 500, {size: 22});
label("Polarization (μC·cm<sup>-2</sup>)", 374, 126, {size: 20, rotate: true});
label("Current (a.u.)", 400, 340, {size: 20, rotate: true});
label("Electric field (MV·cm<sup>-1</sup>)", 563, 500, {size: 22});

const aLegendHtml = ["Pristine","10","10<sup>2</sup>","10<sup>3</sup>","10<sup>4</sup>","10<sup>5</sup>","10<sup>6</sup>"];
const aLegendY = [117,134,151,168,186,203,221];
aLegendHtml.forEach((h, i) => legendItem(271, 301, aLegendY[i], aColors[i], h, 303, 13, "normal", 1.6));
const bLegendY = [147,163,181,199,217];
aLegendHtml.slice(0, 5).forEach((h, i) => legendItem(616, 646, bLegendY[i], bColors[i], h, 648, 13, "normal", 1.6));

// ---------------- PANEL (c) ----------------
const cMinor = [];
for (let k = -1; k <= 6; k++) for (let m = 2; m <= 9; m++) { const v = m * 10 ** k; if (v > 0.52 && v < 1.9e6) cMinor.push(v); }
const cRed = "#ee2229", cGreen = "#168a3b";
const cPlot = Plot.plot({
  width: 605, height: 520, marginLeft: 89, marginRight: 27, marginTop: 23, marginBottom: 103,
  x: {type: "log", domain: [0.52, 1.9e6], axis: null},
  y: {domain: [0, 17], axis: null},
  style: {fontFamily: ARIAL, color: "#111"},
  marks: [
    Plot.axisX(cMajorTicks, {tickSize: 6, tickPadding: 5, fontSize: 26, dx: -6, tickFormat: () => "10", label: null}),
    Plot.axisX(cMajorTicks, {tickSize: 0, tickPadding: 3, fontSize: 18, dx: 14, dy: -2, tickFormat: (d) => String(Math.round(Math.log10(d))), label: null}),
    Plot.axisX(cMinor, {tickSize: 3, tickFormat: noLabel, label: null}),
    Plot.axisY(cYTicks, {tickSize: 6, tickPadding: 3, fontSize: 26, tickFormat: plain, label: null}),
    Plot.axisY([2.5,7.5,12.5], {tickSize: 3, tickFormat: noLabel, label: null}),
    Plot.line(cFitCSD, {x: (d) => d[0], y: (d) => d[1], stroke: cGreen, strokeWidth: 2.6, curve: "catmull-rom"}),
    Plot.line(cFitALD, {x: (d) => d[0], y: (d) => d[1], stroke: cRed, strokeWidth: 2.6, curve: "catmull-rom"}),
    Plot.dot(cCyclesCSD, {x: (d) => d, y: (d, i) => cPrCSD[i], r: 5, fill: cGreen, stroke: "none"}),
    Plot.dot(cCyclesALD, {x: (d) => d, y: (d, i) => cPrALD[i], r: 5.5, symbol: "square", fill: cRed, stroke: "none"}),
    Plot.text(["(c)"], {text: (d) => d, frameAnchor: "top-left", dx: 8, dy: 23, textAnchor: "start", lineAnchor: "middle", fontSize: 22, fontWeight: "bold"}),
    Plot.frame({stroke: "#111", strokeWidth: 2.4})
  ]
});
place(cPlot, 720, 0);
label("<i>P<sub>r</sub></i> (μC·cm<sup>-2</sup>)", 737, 220, {size: 32, rotate: true});
label("Number of cycles (n)", 1053, 493, {size: 33});
legendItem(1021, 1079, 51, cRed, "45 nm ALD ZrO<sub>2</sub>", 1090, 26, "bold", 2.6);
legendItem(1021, 1079, 89, cGreen, "66 nm CSD ZrO<sub>2</sub>", 1090, 26, "bold", 2.6);

// ---------------- PANELS (d) and (e) ----------------
const tGreen = "#1b8a3c", oNavy = "#2c3190";
function spectrumPanel({rows, names, colors, letter, band, arrows, marks, tags, mL, mR, width}) {
  return Plot.plot({
    width, height: 378, marginLeft: mL, marginRight: mR, marginTop: 8, marginBottom: 0,
    x: {domain: [180, 700], axis: null},
    y: {domain: [0, 100], axis: null},
    color: {domain: names, range: colors},
    style: {fontFamily: ARIAL, color: "#111"},
    marks: [
      Plot.axisX(ramanTicks, {tickSize: 5, tickFormat: noLabel, label: null}),
      Plot.axisX(ramanMinorTicks, {tickSize: 3, tickFormat: noLabel, label: null}),
      Plot.line(rows, {x: "x", y: "y", z: "s", stroke: "s", strokeWidth: 2, clip: true}),
      band ? Plot.rect(band, {x1: "x1", x2: "x2", y1: "y1", y2: "y2", fill: "#b8b8b8", fillOpacity: 0.95}) : null,
      Plot.arrow(arrows, {x1: "x1", y1: "y1", x2: "x2", y2: "y2", stroke: "c", strokeWidth: 2, headLength: 13, headAngle: 35}),
      Plot.text(marks, {x: "x", y: "y", text: "t", fill: "c", fontSize: 27, lineAnchor: "middle"}),
      tags ? Plot.text(tags, {x: "x", y: "y", text: "t", fill: "#111", fontSize: 25, fontWeight: "bold", lineAnchor: "middle"}) : null,
      Plot.text([letter], {text: (d) => d, frameAnchor: "top-left", dx: 14, dy: 19, textAnchor: "start", lineAnchor: "middle", fontSize: 25, fontWeight: "bold"}),
      Plot.frame({stroke: "#111", strokeWidth: 2.5})
    ]
  });
}
function barPanel({shift, inten, color, name, height, mB, axis, mL, mR, width, lx, ly, bw}) {
  return Plot.plot({
    width, height, marginLeft: mL, marginRight: mR, marginTop: 0, marginBottom: mB,
    x: {domain: [180, 700], axis: null},
    y: {domain: [0, 100], axis: null},
    style: {fontFamily: ARIAL, color: "#111"},
    marks: [
      axis
        ? Plot.axisX(ramanTicks, {tickSize: 6, tickPadding: 4, fontSize: 19, fontFamily: TAHOMA, tickFormat: plain, label: null})
        : Plot.axisX(ramanTicks, {tickSize: 5, tickFormat: noLabel, label: null}),
      Plot.axisX(ramanMinorTicks, {tickSize: 3, tickFormat: noLabel, label: null}),
      Plot.ruleX(shift, {x: (d) => d, y1: 0, y2: (d, i) => inten[i], stroke: color, strokeWidth: bw}),
      Plot.text([name], {text: (d) => d, frameAnchor: "top-right", dx: lx, dy: ly, textAnchor: "end", lineAnchor: "middle", fontSize: 20, fontWeight: "bold", fill: color, fontFamily: TAHOMA}),
      Plot.frame({stroke: "#111", strokeWidth: 2.5})
    ]
  });
}

const dRows = toRows([[dNames[0], d1e4],[dNames[1], d1e3navy],[dNames[2], d1e3green],[dNames[3], d10],[dNames[4], d1],[dNames[5], dPristine]]);
const eRows = toRows([[eNames[0], e20],[eNames[1], e2],[eNames[2], e1],[eNames[3], ePristine]]);
const siBand = [{x1: 513, x2: 536.5, y1: 19, y2: 100}];
const dArrows = [
  {x1: 266, y1: 85, x2: 266, y2: 71, c: tGreen},
  {x1: 333, y1: 19.7, x2: 333, y2: 31.9, c: oNavy},
  {x1: 561, y1: 3.5, x2: 561, y2: 13.5, c: oNavy}
];
const dMarks = [
  {x: 297, y: 76, t: "t", c: tGreen},
  {x: 357, y: 18.4, t: "o", c: oNavy},
  {x: 579, y: 6.5, t: "o", c: oNavy}
];
const dTags = [{x: 527, y: 13.5, t: "Si"}];
const eArrows = [
  {x1: 268, y1: 92.7, x2: 268, y2: 79.6, c: tGreen},
  {x1: 343.5, y1: 15.6, x2: 343.5, y2: 30.4, c: oNavy},
  {x1: 646, y1: 72, x2: 646, y2: 59, c: tGreen},
  {x1: 541, y1: 1.3, x2: 541, y2: 9.7, c: oNavy}
];
const eMarks = [
  {x: 293.4, y: 83.6, t: "t", c: tGreen},
  {x: 367, y: 17.7, t: "o", c: oNavy},
  {x: 666.8, y: 63.4, t: "t", c: tGreen},
  {x: 562.8, y: 5.4, t: "o", c: oNavy}
];

function ramanColumn({left, width, mL, mR, rows, names, colors, letter, band, arrows, marks, tags, labX}) {
  place(spectrumPanel({rows, names, colors, letter, band, arrows, marks, tags, mL, mR, width}), left, 530);
  place(barPanel({shift: monoShift, inten: monoInt, color: "#ed2024", name: "Monoclinic", height: 92, mB: 0, axis: false, mL, mR, width, lx: -10, ly: 28, bw: 4}), left, 908);
  place(barPanel({shift: tetShift, inten: tetInt, color: "#1b8a3c", name: "Tetragonal", height: 95, mB: 0, axis: false, mL, mR, width, lx: -5, ly: 26, bw: 6}), left, 1000);
  place(barPanel({shift: orthoShift, inten: orthoInt, color: "#2c3190", name: "Orthorhombic", height: 155, mB: 63, axis: true, mL, mR, width, lx: -2, ly: 20, bw: 5}), left, 1095);
  label("Intensity (a.u.)", labX, 718, {size: 34, rotate: true});
}
ramanColumn({left: 0, width: 660, mL: 83, mR: 27, rows: dRows, names: dNames, colors: dColors, letter: "(d)", band: siBand, arrows: dArrows, marks: dMarks, tags: dTags, labX: 60});
ramanColumn({left: 670, width: 655, mL: 82, mR: 23, rows: eRows, names: eNames, colors: eColors, letter: "(e)", band: null, arrows: eArrows, marks: eMarks, tags: null, labX: 730});
label("Raman shift (cm<sup>-1</sup>)", 358, 1235, {size: 27});
label("Raman shift (cm<sup>-1</sup>)", 1027, 1235, {size: 27});

const dLegendHtml = ["10<sup>4</sup>","10<sup>3</sup>","10<sup>3</sup>","10","1","Pristine"];
const dLegendY = [560,586,610,635,658,682];
dLegendHtml.forEach((h, i) => legendItem(507, 550, dLegendY[i], dColors[i], h, 553, 18, "bold", 2.6));
const eLegendHtml = ["20","2","1","Pristine"];
const eLegendY = [562,584,608,631];
eLegendHtml.forEach((h, i) => legendItem(1071, 1114, eLegendY[i], eColors[i], h, 1117, 17, "bold", 2.6));
</script>
</body></html>
